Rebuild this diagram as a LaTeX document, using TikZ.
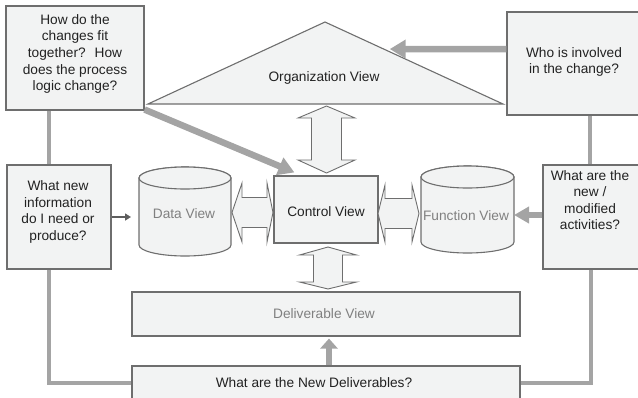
\documentclass[tikz,border=0pt]{standalone}
\usepackage{fontspec}
\setmainfont{Liberation Sans}
\usetikzlibrary{arrows.meta,calc}
\definecolor{boxfill}{HTML}{F2F3F3}
\definecolor{edgegray}{HTML}{6E6E6E}
\definecolor{conngray}{HTML}{A4A4A4}
\definecolor{viewgray}{HTML}{808080}
\definecolor{inkdark}{HTML}{222222}
\definecolor{pointer}{HTML}{5E5E5E}
\tikzset{
  box/.style={draw=edgegray, fill=boxfill, line width=1.1pt, rectangle, inner sep=0pt},
  txt/.style={inner sep=0pt, align=center, text=inkdark, font=\fontsize{13.7}{16.6}\selectfont},
  viewtxt/.style={txt, text=viewgray},
  shape3d/.style={draw=edgegray, fill=boxfill, line width=1.1pt, line join=miter},
  conn/.style={draw=conngray, line width=4pt},
  bigarrow/.style={draw=conngray, line width=6.5pt, -{Triangle[length=16pt,width=18pt]}},
  smallarrow/.style={draw=pointer, line width=2.4pt, -{Triangle[length=6pt,width=7pt]}},
}
\begin{document}
\begin{tikzpicture}[x=1pt,y=-1pt]
\useasboundingbox (0,0) rectangle (638,397);
\clip (0,0) rectangle (638,397);

% question boxes
\node[box, minimum width=138pt, minimum height=104pt] (q1) at (75,58) {};
\node[box, minimum width=134pt, minimum height=103pt] (q2) at (574,63.5) {};
\node[box, minimum width=104pt, minimum height=104pt] (q3) at (59,217) {};
\node[box, minimum width=97pt, minimum height=104pt] (q4) at (591.5,217) {};
\node[box, minimum width=388pt, minimum height=34pt] (q5) at (326,383) {};

% connectors between the question boxes
\draw[conn] ([xshift=-26pt]q1.south) -- ([xshift=-26pt]q1.south |- q3.north);
\draw[conn] ([xshift=-10pt]q3.south) |- (q5.west);
\draw[conn] ([xshift=16pt]q2.south) -- ([xshift=16pt]q2.south |- q4.north);
\draw[conn] ([xshift=-0.5pt]q4.south) |- (q5.east);
% redraw boxes over the connector ends
\node[box, minimum width=138pt, minimum height=104pt] at (q1) {};
\node[box, minimum width=134pt, minimum height=103pt] at (q2) {};
\node[box, minimum width=104pt, minimum height=104pt] at (q3) {};
\node[box, minimum width=97pt, minimum height=104pt] at (q4) {};
\node[box, minimum width=388pt, minimum height=34pt] at (q5) {};

\node[txt] (q1t) at (75,54) {How do the\\changes fit\\together?~ How\\does the process\\logic change?};
\node[txt] (q2t) at (574,62) {Who is involved\\in the change?};
\node[txt] (q3t) at (58,212) {What new\\information\\do I need or\\produce?};
\node[txt] (q4t) at (590,200) {What are the\\new /\\modified\\activities?};
\node[txt] (q5t) at (314,383) {What are the New Deliverables?};

% organization view triangle
\coordinate (orgA) at (325,22);
\coordinate (orgL) at (148,104);
\coordinate (orgR) at (503,104);
\draw[shape3d] (orgA) -- (orgR) -- (orgL) -- cycle;
\node[txt] (org) at (324,78) {Organization View};

% control view
\node[box, minimum width=104pt, minimum height=67pt] (ctrl) at (326,209.5) {};
\node[txt] (ctrlt) at (326,212) {Control View};

% deliverable view
\node[box, minimum width=388pt, minimum height=44pt] (deliv) at (326,314) {};
\node[viewtxt] (delivt) at (324,314) {Deliverable View};

% data view cylinder
\draw[shape3d] (139,178) -- (139,245) arc[start angle=180, end angle=360, x radius=46pt, y radius=11pt]
  -- (231,178) arc[start angle=0, end angle=180, x radius=46pt, y radius=11pt] -- cycle;
\draw[shape3d] (185,178) ellipse[x radius=46pt, y radius=11pt];
\node[viewtxt] (data) at (184,214) {Data View};
\coordinate (dataL) at (139,217);

% function view cylinder
\draw[shape3d] (421,177) -- (421,242) arc[start angle=180, end angle=360, x radius=46.5pt, y radius=11pt]
  -- (514,177) arc[start angle=0, end angle=180, x radius=46.5pt, y radius=11pt] -- cycle;
\draw[shape3d] (467.5,177) ellipse[x radius=46.5pt, y radius=11pt];
\node[viewtxt] (func) at (466,216) {Function View};
\coordinate (funcR) at (514,215);

% double arrows between the views
\draw[shape3d, line width=0.9pt] (326.5,106) -- (355,118) -- (341.5,118) -- (341.5,160) -- (355,160)
  -- (326.5,173) -- (298,160) -- (311.5,160) -- (311.5,118) -- (298,118) -- cycle;
\draw[shape3d, line width=0.9pt] (328,247) -- (356.5,255) -- (342.5,255) -- (342.5,282) -- (356.5,282)
  -- (328,289) -- (299.5,282) -- (313.5,282) -- (313.5,255) -- (299.5,255) -- cycle;
\draw[shape3d, line width=0.9pt] (232,212.5) -- (242,183) -- (242,197.5) -- (267,197.5) -- (267,183)
  -- (273,212.5) -- (267,242) -- (267,227.5) -- (242,227.5) -- (242,242) -- cycle;
\draw[shape3d, line width=0.9pt] (378,213.5) -- (385,185) -- (385,198.5) -- (412,198.5) -- (412,185)
  -- (419,213.5) -- (412,242) -- (412,228.5) -- (385,228.5) -- (385,242) -- cycle;

% question arrows
\draw[bigarrow] (q2.west |- 0,49) -- ($(orgA)!0.33!(orgR)+(6,0)$);
\draw[bigarrow] ([yshift=1pt]q1.south east) -- ([xshift=21pt,yshift=3pt]ctrl.north west);
\draw[bigarrow, -{Triangle[length=15pt,width=16pt]}] ([yshift=2pt]q4.west) -- ([yshift=2pt]q4.west -| funcR);
\draw[bigarrow, line width=5.5pt, -{Triangle[length=10pt,width=17pt]}] ([xshift=3pt]q5.north) -- ([xshift=3pt,yshift=-2pt]deliv.south);
\draw[smallarrow] (q3.east) -- ([xshift=-8pt]dataL);
\end{tikzpicture}
\end{document}
